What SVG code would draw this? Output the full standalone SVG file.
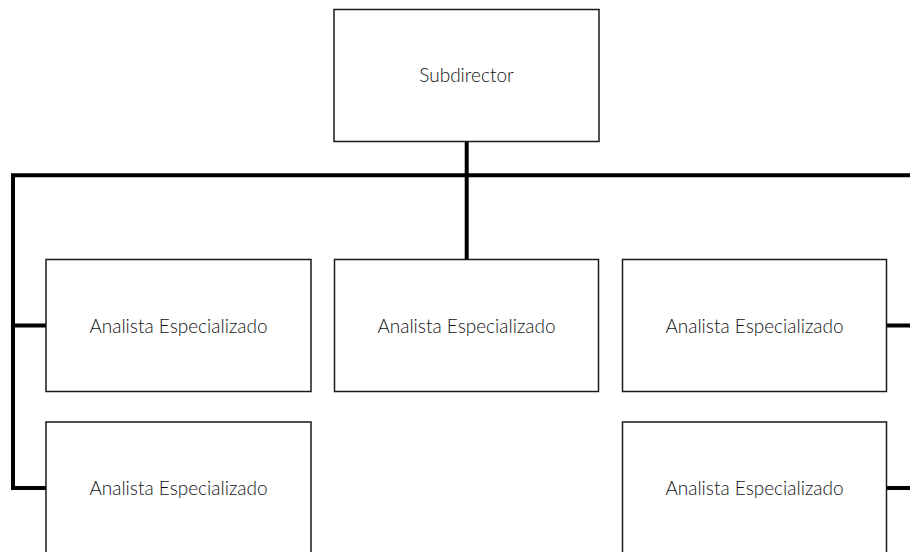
<svg xmlns="http://www.w3.org/2000/svg" width="910" height="552" viewBox="0 0 910 552">
<style>
.box{fill:#fff;stroke:#1a1a1a;stroke-width:1.5}
.lbl{font-family:Lato,"Open Sans",sans-serif;font-size:19px;font-weight:300;fill:#111;text-anchor:middle;dominant-baseline:central}
.conn{fill:none;stroke:#000;stroke-width:4;stroke-linejoin:miter;stroke-linecap:butt}
</style>
<rect width="910" height="552" fill="#fff"/>
<g id="connectors">
<path class="conn" d="M466.7 141.7V259.5"/>
<path class="conn" d="M46 488H13V175.3H910"/>
<path class="conn" d="M13 325.5H46"/>
<path class="conn" d="M886.5 325.5H910"/>
<path class="conn" d="M886.5 488H910"/>
</g>
<g id="subdirector"><rect class="box" x="334" y="9.5" width="265" height="132"/><text class="lbl" x="466.5" y="74.5">Subdirector</text></g>
<g id="analista1"><rect class="box" x="46" y="259.5" width="265" height="132"/><text class="lbl" x="178.5" y="325">Analista Especializado</text></g>
<g id="analista2"><rect class="box" x="334.5" y="259.5" width="264" height="132"/><text class="lbl" x="466.5" y="325">Analista Especializado</text></g>
<g id="analista3"><rect class="box" x="622.5" y="259.5" width="264" height="132"/><text class="lbl" x="754.5" y="325">Analista Especializado</text></g>
<g id="analista4"><rect class="box" x="46" y="422" width="265" height="132"/><text class="lbl" x="178.5" y="487.5">Analista Especializado</text></g>
<g id="analista5"><rect class="box" x="622.5" y="422" width="264" height="132"/><text class="lbl" x="754.5" y="487.5">Analista Especializado</text></g>
</svg>
